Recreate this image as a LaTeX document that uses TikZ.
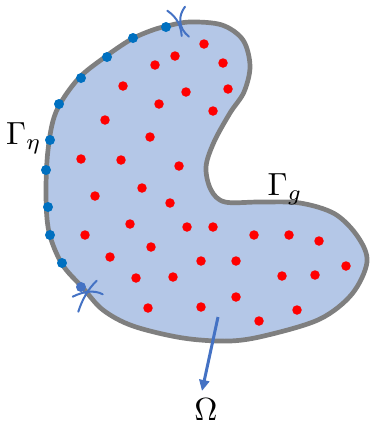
\documentclass[tikz,border=0pt]{standalone}
\usetikzlibrary{arrows.meta}
\definecolor{fillblue}{HTML}{B4C7E7}
\definecolor{edgegray}{HTML}{7F7F7F}
\definecolor{bdot}{HTML}{0070C0}
\definecolor{bdotb}{HTML}{4472C4}
\definecolor{rdotc}{HTML}{FF0000}
\definecolor{markblue}{HTML}{4472C4}
\begin{document}
\begin{tikzpicture}[x=1pt,y=-1pt,
  rdot/.style={circle,fill=rdotc,inner sep=0pt,minimum size=9.5pt},
  bdotst/.style={circle,fill=bdot,inner sep=0pt,minimum size=10pt},
  lbl/.style={inner sep=0pt,scale=3.2},
  cutmark/.style={draw=markblue,line width=2pt,line cap=round},
  arr/.style={draw=markblue,line width=3pt,-{Triangle[length=11pt,width=10pt]}}]
\useasboundingbox (0,0) rectangle (370,426);
% domain
\draw[fill=fillblue,draw=edgegray,line width=4.7pt]
  plot[smooth cycle,tension=0.55] coordinates {
  (150,31) (167,26) (190,22) (222,25) (243,40) (250,66) (244,92) (230,113)
  (214,142) (206,167) (211,190) (225,202) (260,202) (300,203) (335,214)
  (358,237) (367,262) (352,294) (320,319) (268,335) (230,341) (183,338)
  (133,326) (103,310) (83,288) (62,264) (49,232) (46,195) (48,150) (56,112)
  (78,79) (105,57) (130,40)};
% boundary points
\foreach \p [count=\i] in {(166,27),(133,38),(107,57),(81,78),(59,104),(50,140),(46,170),(48,207),(50,235),(62,263)}
  \node[bdotst] (b\i) at \p {};
\node[bdotst,fill=bdotb] (b11) at (81,287) {};
% interior points
\foreach \p [count=\i] in {(204,44),(175,56),(155,65),(223,63),(123,86),(186,92),(228,89),(159,104),(213,111),(105,120),(150,137),(81,159),(121,160),(179,166),(95,196),(142,188),(170,203),
(130,224),(85,235),(187,227),(213,227),(254,235),(289,235),(319,241),(151,247),(110,257),(201,261),(236,261),(346,266),(282,276),(315,275),(136,278),(173,277),(236,297),(148,308),(201,307),(297,310),(259,321)}
  \node[rdot] (r\i) at \p {};
% cut marks top
\draw[cutmark] (167.3,10.7) .. controls (178,18) and (181,27) .. (181.7,36);
\draw[cutmark] (185,6.7) .. controls (178,16) and (178,28) .. (189,36.7);
% cut marks bottom
\draw[cutmark] (72.7,296.7) .. controls (84,291) and (95,290) .. (102.7,294.3);
\draw[cutmark] (96.7,280.7) .. controls (88,289) and (82,300) .. (78.3,311.7);
% labels
\node[lbl] (geta) at (24,138) {$\Gamma_\eta$};
\node[lbl] (gg) at (285,189) {$\Gamma_g$};
\node[lbl] (om) at (206,410) {$\Omega$};
% arrow
\coordinate (a0) at (218,317);
\coordinate (a1) at (202,391);
\draw[arr] (a0) -- (a1);
\end{tikzpicture}
\end{document}
